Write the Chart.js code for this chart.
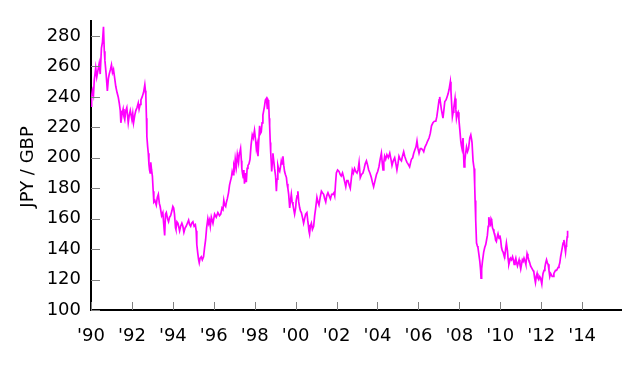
<!DOCTYPE html>
<html><head><meta charset="utf-8">
<script src="https://cdn.jsdelivr.net/npm/chart.js@4"></script>
<style>html,body{margin:0;padding:0;background:#fff}#wrap{width:640px;height:366px;position:relative}</style>
</head><body><div id="wrap"><canvas id="c" width="640" height="366"></canvas></div>
<script>
const yearTicks = [1990,1992,1994,1996,1998,2000,2002,2004,2006,2008,2010,2012,2014];
const yearTickLabels = ["'90","'92","'94","'96","'98","'00","'02","'04","'06","'08","'10","'12","'14"];
const rateTicks = [100,120,140,160,180,200,220,240,260,280];
const axisTitle = "JPY / GBP";
const dates = [
1990.00,1990.03,1990.07,1990.12,1990.16,1990.23,1990.28,1990.32,1990.40,1990.45,1990.51,1990.56,1990.61,1990.65,1990.68,1990.74,1990.80,1990.85,1990.89,1990.95,
1991.00,1991.05,1991.10,1991.16,1991.21,1991.27,1991.33,1991.38,1991.43,1991.46,1991.52,1991.57,1991.61,1991.65,1991.70,1991.75,1991.82,1991.87,1991.92,
1992.00,1992.04,1992.08,1992.14,1992.19,1992.25,1992.31,1992.35,1992.40,1992.44,1992.50,1992.57,1992.63,1992.66,1992.68,1992.71,1992.73,1992.77,1992.80,1992.83,1992.86,1992.89,1992.92,1992.96,
1993.00,1993.04,1993.07,1993.12,1993.19,1993.24,1993.29,1993.34,1993.38,1993.45,1993.51,1993.55,1993.60,1993.64,1993.68,1993.74,1993.79,1993.84,1993.89,1993.95,
1994.00,1994.04,1994.08,1994.13,1994.15,1994.20,1994.25,1994.33,1994.38,1994.44,1994.49,1994.54,1994.60,1994.65,1994.71,1994.77,1994.82,1994.87,1994.92,1994.98,
1995.04,1995.10,1995.14,1995.17,1995.22,1995.26,1995.29,1995.33,1995.39,1995.44,1995.50,1995.55,1995.60,1995.65,1995.71,1995.75,1995.79,1995.83,1995.88,1995.96,
1996.04,1996.12,1996.20,1996.28,1996.34,1996.40,1996.45,1996.49,1996.53,1996.58,1996.62,1996.66,1996.72,1996.77,1996.82,1996.86,1996.90,1996.94,1996.98,
1997.02,1997.05,1997.10,1997.15,1997.21,1997.25,1997.28,1997.31,1997.35,1997.37,1997.40,1997.44,1997.47,1997.50,1997.54,1997.59,1997.63,1997.67,1997.72,1997.77,1997.82,1997.88,1997.93,1997.99,
1998.04,1998.08,1998.12,1998.16,1998.20,1998.24,1998.28,1998.32,1998.36,1998.40,1998.44,1998.48,1998.52,1998.57,1998.62,1998.65,1998.68,1998.71,1998.73,1998.76,1998.78,1998.81,1998.83,1998.86,1998.89,1998.93,1998.97,
1999.02,1999.06,1999.09,1999.13,1999.18,1999.22,1999.26,1999.30,1999.34,1999.38,1999.42,1999.46,1999.50,1999.55,1999.58,1999.62,1999.66,1999.71,1999.75,1999.79,1999.83,1999.87,1999.91,1999.95,
2000.00,2000.03,2000.07,2000.11,2000.15,2000.20,2000.24,2000.28,2000.33,2000.39,2000.44,2000.49,2000.55,2000.59,2000.62,2000.65,2000.68,2000.72,2000.77,2000.82,2000.88,2000.93,2000.98,
2001.04,2001.09,2001.14,2001.20,2001.26,2001.31,2001.37,2001.42,2001.47,2001.52,2001.58,2001.64,2001.70,2001.76,2001.82,2001.87,2001.91,2001.95,2001.99,
2002.05,2002.12,2002.18,2002.23,2002.29,2002.35,2002.40,2002.45,2002.50,2002.56,2002.62,2002.67,2002.72,2002.77,2002.82,2002.88,2002.94,
2003.00,2003.05,2003.10,2003.16,2003.22,2003.29,2003.35,2003.40,2003.46,2003.52,2003.57,2003.63,2003.70,2003.75,2003.81,2003.88,2003.95,
2004.01,2004.07,2004.13,2004.19,2004.23,2004.27,2004.31,2004.35,2004.40,2004.46,2004.53,2004.60,2004.66,2004.71,2004.77,2004.84,2004.90,2004.95,
2005.00,2005.05,2005.11,2005.17,2005.22,2005.28,2005.33,2005.38,2005.44,2005.49,2005.53,2005.57,2005.62,2005.66,2005.72,2005.77,2005.82,2005.88,2005.93,2005.98,
2006.03,2006.09,2006.15,2006.22,2006.26,2006.32,2006.39,2006.45,2006.52,2006.58,2006.64,2006.71,2006.78,2006.85,2006.90,2006.96,
2007.01,2007.04,2007.08,2007.12,2007.16,2007.20,2007.25,2007.29,2007.35,2007.40,2007.45,2007.50,2007.56,2007.59,2007.61,2007.66,2007.70,2007.73,2007.79,2007.83,2007.86,2007.90,2007.94,2007.98,
2008.02,2008.07,2008.10,2008.13,2008.18,2008.23,2008.27,2008.30,2008.35,2008.40,2008.45,2008.51,2008.56,2008.60,2008.62,2008.67,2008.72,2008.75,2008.77,2008.80,2008.84,2008.88,2008.91,2008.95,
2009.00,2009.04,2009.06,2009.09,2009.13,2009.19,2009.24,2009.29,2009.33,2009.37,2009.41,2009.44,2009.48,2009.52,2009.55,2009.58,2009.62,2009.65,2009.69,2009.73,2009.77,2009.81,2009.85,2009.89,2009.94,2009.98,
2010.02,2010.06,2010.10,2010.14,2010.18,2010.22,2010.26,2010.30,2010.35,2010.38,2010.42,2010.46,2010.50,2010.55,2010.60,2010.64,2010.68,2010.72,2010.76,2010.80,2010.84,2010.88,2010.92,2010.96,
2011.00,2011.04,2011.08,2011.12,2011.16,2011.21,2011.25,2011.31,2011.35,2011.39,2011.44,2011.48,2011.52,2011.56,2011.60,2011.64,2011.68,2011.72,2011.76,2011.80,2011.84,2011.88,2011.93,2011.97,
2012.03,2012.06,2012.09,2012.14,2012.18,2012.22,2012.26,2012.30,2012.34,2012.38,2012.42,2012.46,2012.50,2012.54,2012.58,2012.62,2012.66,2012.70,2012.75,2012.79,2012.83,2012.87,2012.91,2012.95,2012.99,
2013.03,2013.07,2013.11,2013.14,2013.19,2013.22,2013.24,2013.27,2013.29
];
const rates = [
234,240,244,241,251,259,253,256,262,255,272,276,286,270,264,255,244,252,255,258,
261,256,258,252,247,243,240,236,231,223,229,232,227,225,231,233,223,228,231,
225,229,223,228,231,233,236,232,235,238,240,243,248,244,241,226,214,207,203,196,192,190,197,192,
188,178,171,172,169,174,176,170,168,162,164,157,149,163,164,160,158,161,162,165,
168,167,163,154,153,158,157,152,155,157,155,151,154,155,157,159,156,155,157,158,
155,156,152,143,137,133,131,134,135,133,135,141,146,154,160,157,159,155,161,157,
163,161,164,162,163,167,166,172,169,168,171,173,177,182,185,187,191,189,195,
193,199,194,202,197,203,204,206,198,193,190,187,192,183,190,184,193,195,196,199,208,215,213,218,
212,206,209,201,211,221,216,217,223,228,231,234,238,239,232,238,237,226,221,210,204,197,191,197,203,198,193,
188,178,186,195,192,191,194,198,196,201,195,191,189,187,183,180,176,167,172,176,171,169,166,163,
167,172,175,178,171,167,165,164,161,157,160,163,164,159,156,152,150,155,157,153,155,162,167,
174,171,169,174,178,177,176,173,171,175,177,175,173,176,176,177,175,183,190,
192,191,189,188,190,187,184,181,185,185,182,180,186,192,190,193,191,
190,192,197,187,189,190,193,196,198,195,192,190,187,184,181,185,189,
191,194,199,203,197,192,197,201,199,202,200,203,199,195,198,200,196,192,
196,201,199,198,201,204,201,199,197,196,195,194,197,199,200,203,205,207,211,206,
203,206,206,205,204,207,209,211,213,216,221,223,224,224,227,233,
238,240,236,232,229,226,232,237,238,240,242,245,250,244,239,227,230,233,239,232,226,229,230,225,
219,211,208,206,213,194,198,202,207,204,206,213,215,212,210,198,193,182,172,159,144,142,141,137,
132,126,121,127,132,138,141,143,146,149,155,161,157,156,160,159,154,153,151,150,146,145,148,150,147,149,
146,141,139,138,136,135,140,144,139,134,130,132,134,133,135,133,130,132,134,131,129,131,133,130,
127,130,133,132,134,132,130,137,135,133,131,129,128,127,126,125,121,118,122,124,121,120,122,121,
117,121,124,126,128,131,133,131,130,126,122,124,123,122,122,124,125,126,126,127,128,129,131,135,138,
141,144,146,143,138,142,144,148,152
];

const points = dates.map((d, i) => ({x: d, y: rates[i]}));

const innerTicks = {
  id: 'innerTicks',
  afterDatasetsDraw(chart) {
    const ctx = chart.ctx, a = chart.chartArea;
    const xs = chart.scales.x, ys = chart.scales.y;
    ctx.save();
    ctx.strokeStyle = '#808080';
    ctx.lineWidth = 1;
    ctx.beginPath();
    yearTicks.forEach(t => {
      const px = Math.round(xs.getPixelForValue(t)) + 0.5;
      ctx.moveTo(px, a.bottom); ctx.lineTo(px, a.bottom - 8);
    });
    rateTicks.forEach(t => {
      const py = Math.round(ys.getPixelForValue(t)) + 0.5;
      ctx.moveTo(a.left, py); ctx.lineTo(a.left + 9, py);
    });
    ctx.stroke();
    // axis title
    ctx.fillStyle = '#000';
    ctx.font = "18px 'DejaVu Sans', sans-serif";
    ctx.textAlign = 'center';
    ctx.textBaseline = 'middle';
    ctx.translate(28, ys.getPixelForValue(194));
    ctx.rotate(-Math.PI / 2);
    ctx.fillText(axisTitle, 0, 0);
    ctx.restore();
  }
};

Chart.defaults.font.family = "'DejaVu Sans', sans-serif";
Chart.defaults.font.size = 18;
Chart.defaults.color = '#000';

new Chart(document.getElementById('c'), {
  type: 'line',
  data: { datasets: [{ data: points, borderColor: '#ff00ff', borderWidth: 1.7, pointRadius: 0, tension: 0, fill: false }] },
  options: {
    responsive: false, animation: false,
    layout: { padding: { left: 0, top: 18, right: 19, bottom: 0 } },
    plugins: { legend: { display: false }, tooltip: { enabled: false } },
    scales: {
      x: {
        type: 'linear', min: 1990, max: 2015.9,
        afterBuildTicks: s => { s.ticks = yearTicks.map(v => ({value: v})); },
        afterFit: s => { s.height = 56; },
        ticks: { autoSkip: false, maxRotation: 0, padding: 16, color: '#000',
          callback: v => yearTickLabels[yearTicks.indexOf(v)] },
        grid: { display: true, drawOnChartArea: false, drawTicks: false },
        border: { display: true, color: '#000', width: 2 }
      },
      y: {
        type: 'linear', min: 100, max: 290,
        afterBuildTicks: s => { s.ticks = rateTicks.map(v => ({value: v})); },
        afterFit: s => { s.width = 91; },
        ticks: { autoSkip: false, padding: 10, color: '#000' },
        grid: { display: true, drawOnChartArea: false, drawTicks: false },
        border: { display: true, color: '#000', width: 2 }
      }
    }
  },
  plugins: [innerTicks]
});
</script>
</body></html>
